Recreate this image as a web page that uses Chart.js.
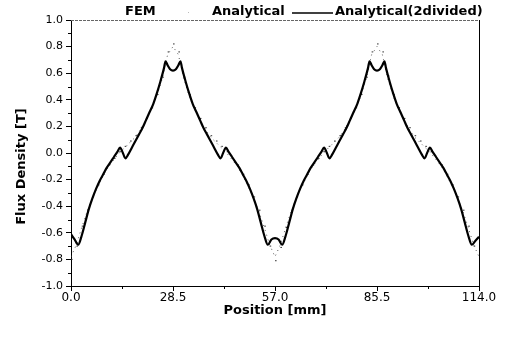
<!DOCTYPE html>
<html>
<head>
<meta charset="utf-8">
<script src="https://cdn.jsdelivr.net/npm/chart.js@4.4.1/dist/chart.umd.min.js"></script>
<style>
  html, body { margin: 0; padding: 0; background: #fff; }
  canvas { display: block; }
</style>
</head>
<body>
<canvas id="c" width="507" height="341"></canvas>
<script>
// ---------- DATA ----------
const seriesNames = ["FEM", "Analytical", "Analytical(2divided)"];

// Analytical (2 divided) – solid curve
const posSolid = [0,1,2,3,4,5,6,7,8,9,10,11,12,13,13.7,14.5,15.2,16,17,18,19,20,21,22,23,24,25,26,26.4,27,27.7,28.5,29.3,30,30.6,31,32,33,34,35,36,37,38,39,40,41,41.8,42.5,43.3,44,45,46,47,48,49,50,51,52,53,54,55,56,57,
  58,59,60,61,62,63,64,65,66,67,68,69,70,70.7,71.5,72.2,73,74,75,76,77,78,79,80,81,82,83,83.4,84,84.7,85.5,86.3,87,87.6,88,89,90,91,92,93,94,95,96,97,98,98.8,99.5,100.3,101,102,103,104,105,106,107,108,109,110,111,112,113,114];
const fluxSolid = [-0.61,-0.65,-0.69,-0.62,-0.52,-0.42,-0.34,-0.27,-0.21,-0.16,-0.11,-0.07,-0.03,0.01,0.04,0.00,-0.04,-0.01,0.04,0.09,0.14,0.19,0.25,0.31,0.37,0.45,0.54,0.64,0.69,0.66,0.63,0.62,0.63,0.66,0.69,0.64,0.54,0.45,0.37,0.31,0.25,0.19,0.14,0.09,0.04,-0.01,-0.04,0.00,0.04,0.01,-0.03,-0.07,-0.11,-0.16,-0.21,-0.27,-0.34,-0.42,-0.52,-0.62,-0.69,-0.65,-0.64,
  -0.65,-0.69,-0.62,-0.52,-0.42,-0.34,-0.27,-0.21,-0.16,-0.11,-0.07,-0.03,0.01,0.04,0.00,-0.04,-0.01,0.04,0.09,0.14,0.19,0.25,0.31,0.37,0.45,0.54,0.64,0.69,0.66,0.63,0.62,0.63,0.66,0.69,0.64,0.54,0.45,0.37,0.31,0.25,0.19,0.14,0.09,0.04,-0.01,-0.04,0.00,0.04,0.01,-0.03,-0.07,-0.11,-0.16,-0.21,-0.27,-0.34,-0.42,-0.52,-0.62,-0.69,-0.66,-0.63];

// FEM and Analytical (undivided) – sampled every 1.5 mm
const posFine = [0,1.5,3,4.5,6,7.5,9,10.5,12,13.5,15,16.5,18,19.5,21,22.5,24,25.5,27,28.5,30,31.5,33,34.5,36,37.5,39,40.5,42,43.5,45,46.5,48,49.5,51,52.5,54,55.5,57,
  58.5,60,61.5,63,64.5,66,67.5,69,70.5,72,73.5,75,76.5,78,79.5,81,82.5,84,85.5,87,88.5,90,91.5,93,94.5,96,97.5,99,100.5,102,103.5,105,106.5,108,109.5,111,112.5,114];
const fluxFEM = [-0.80,-0.70,-0.55,-0.43,-0.33,-0.24,-0.16,-0.09,-0.04,0.01,0.05,0.09,0.13,0.19,0.26,0.34,0.44,0.57,0.76,0.82,0.76,0.57,0.44,0.34,0.26,0.19,0.13,0.09,0.05,0.01,-0.04,-0.09,-0.16,-0.24,-0.33,-0.43,-0.55,-0.70,-0.81,
  -0.71,-0.56,-0.43,-0.33,-0.24,-0.16,-0.09,-0.04,0.01,0.05,0.09,0.13,0.19,0.26,0.34,0.44,0.57,0.76,0.82,0.76,0.58,0.44,0.34,0.26,0.19,0.13,0.09,0.05,0.01,-0.04,-0.09,-0.16,-0.24,-0.33,-0.43,-0.55,-0.70,-0.79];
const fluxAnalytical = [-0.78,-0.69,-0.56,-0.44,-0.34,-0.25,-0.17,-0.10,-0.05,0.00,0.04,0.08,0.12,0.18,0.25,0.33,0.43,0.56,0.74,0.80,0.74,0.56,0.43,0.33,0.25,0.18,0.12,0.08,0.04,0.00,-0.05,-0.10,-0.17,-0.25,-0.34,-0.44,-0.56,-0.69,-0.78,
  -0.69,-0.56,-0.44,-0.34,-0.25,-0.17,-0.10,-0.05,0.00,0.04,0.08,0.12,0.18,0.25,0.33,0.43,0.56,0.74,0.80,0.74,0.56,0.43,0.33,0.25,0.18,0.12,0.08,0.04,0.00,-0.05,-0.10,-0.17,-0.25,-0.34,-0.44,-0.56,-0.69,-0.78];

const xTickValues = [0, 28.5, 57, 85.5, 114];
const xMinorTicks = [14.25, 42.75, 71.25, 99.75];
const yMinorTicks = [-0.9,-0.7,-0.5,-0.3,-0.1,0.1,0.3,0.5,0.7,0.9];
const xTitle = "Position [mm]";
const yTitle = "Flux Density [T]";

// ---------- STYLE ----------
Chart.defaults.font.family = "'DejaVu Sans', sans-serif";
Chart.defaults.color = "#000";

const pts = (xs, ys) => xs.map((x, i) => ({x: x, y: ys[i]}));

// legend positions (text start x, symbol span)
const legendLayout = [
  {tx: 125, sym: null},
  {tx: 212, sym: 'dot'},
  {tx: 335, sym: [292, 333]}
];

const refLegend = {
  id: 'refLegend',
  afterDraw(chart) {
    const ctx = chart.ctx;
    ctx.save();
    ctx.font = "bold 13px 'DejaVu Sans'";
    ctx.fillStyle = '#000';
    ctx.textBaseline = 'middle';
    ctx.textAlign = 'left';
    const y = 11.5;
    legendLayout.forEach((L, i) => {
      ctx.fillText(seriesNames[i], L.tx, y);
      if (Array.isArray(L.sym)) {
        ctx.strokeStyle = '#000';
        ctx.lineWidth = 1.5;
        ctx.beginPath();
        ctx.moveTo(L.sym[0], 13);
        ctx.lineTo(L.sym[1], 13);
        ctx.stroke();
      } else if (L.sym === 'dot') {
        ctx.fillStyle = '#bbb';
        ctx.fillRect(188, 12, 1, 1);
        ctx.fillStyle = '#000';
      }
    });
    ctx.restore();
  }
};

const frameAndMinor = {
  id: 'frameAndMinor',
  afterDraw(chart) {
    const ctx = chart.ctx;
    const a = chart.chartArea;
    const xs = chart.scales.x, ys = chart.scales.y;
    ctx.save();
    ctx.strokeStyle = '#000';
    ctx.lineWidth = 1;
    // right frame
    ctx.beginPath();
    ctx.moveTo(Math.round(a.right) + 0.5, a.top);
    ctx.lineTo(Math.round(a.right) + 0.5, a.bottom);
    ctx.stroke();
    // top frame (faint, broken)
    ctx.strokeStyle = '#666';
    ctx.setLineDash([3, 1]);
    ctx.beginPath();
    ctx.moveTo(a.left, Math.round(a.top) + 0.5);
    ctx.lineTo(a.right, Math.round(a.top) + 0.5);
    ctx.stroke();
    ctx.setLineDash([]);
    ctx.strokeStyle = '#000';
    // minor ticks
    ctx.beginPath();
    xMinorTicks.forEach(v => {
      const px = Math.round(xs.getPixelForValue(v)) + 0.5;
      ctx.moveTo(px, a.bottom);
      ctx.lineTo(px, a.bottom + 3);
    });
    yMinorTicks.forEach(v => {
      const py = Math.round(ys.getPixelForValue(v)) + 0.5;
      ctx.moveTo(a.left - 3, py);
      ctx.lineTo(a.left, py);
    });
    ctx.stroke();
    ctx.restore();
  }
};

const fmt = v => (Math.abs(v) < 1e-9 ? 0 : v).toFixed(1);

new Chart(document.getElementById('c'), {
  type: 'scatter',
  data: {
    datasets: [
      {
        label: seriesNames[0],
        data: pts(posFine, fluxFEM),
        showLine: false,
        pointStyle: 'dash',
        pointRadius: 1.6,
        borderColor: '#333',
        backgroundColor: '#333',
        borderWidth: 1,
        order: 2
      },
      {
        label: seriesNames[1],
        data: pts(posFine, fluxAnalytical),
        showLine: true,
        pointRadius: 0,
        borderColor: '#555',
        borderWidth: 1,
        borderDash: [1, 4],
        order: 1
      },
      {
        label: seriesNames[2],
        data: pts(posSolid, fluxSolid),
        showLine: true,
        pointRadius: 0,
        borderColor: '#000',
        borderWidth: 2.2,
        cubicInterpolationMode: 'monotone',
        order: 0
      }
    ]
  },
  options: {
    responsive: false,
    animation: false,
    devicePixelRatio: 1,
    layout: { padding: { left: 0, right: 28, top: 20, bottom: 0 } },
    plugins: {
      legend: { display: false },
      tooltip: { enabled: false }
    },
    scales: {
      x: {
        type: 'linear',
        min: 0, max: 114,
        afterBuildTicks: s => { s.ticks = xTickValues.map(v => ({value: v})); },
        afterFit: s => { s.height = 55; },
        grid: { display: true, drawOnChartArea: false, drawTicks: true, tickLength: 5, color: '#000' },
        border: { display: true, color: '#000', width: 1 },
        ticks: {
          callback: v => fmt(v),
          font: { size: 12 },
          padding: 0,
          maxRotation: 0,
          autoSkip: false
        },
        title: {
          display: true, text: xTitle,
          font: { size: 13, weight: 'bold' },
          padding: { top: 0, bottom: 23 }
        }
      },
      y: {
        type: 'linear',
        min: -1, max: 1,
        ticks: {
          stepSize: 0.2,
          callback: v => fmt(v),
          font: { size: 11 },
          padding: 3
        },
        afterFit: s => { s.width = 71; },
        grid: { display: true, drawOnChartArea: false, drawTicks: true, tickLength: 5, color: '#000' },
        border: { display: true, color: '#000', width: 1 },
        title: {
          display: true, text: yTitle + '\u00a0\u00a0\u00a0\u00a0\u00a0\u00a0',
          font: { size: 13, weight: 'bold' },
          padding: { top: 14, bottom: 0 }
        }
      }
    }
  },
  plugins: [refLegend, frameAndMinor]
});
</script>
</body>
</html>
